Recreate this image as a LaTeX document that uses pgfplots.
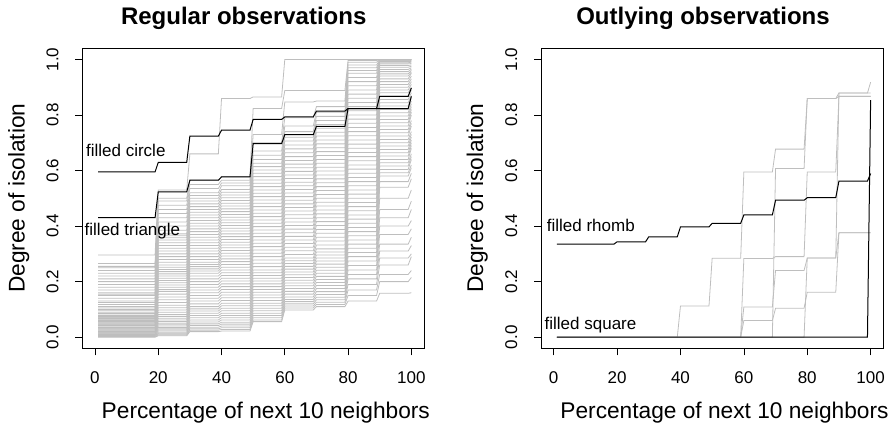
\documentclass[border=0pt]{standalone}
\usepackage{fontspec}
\setmainfont{Liberation Sans}
\usepackage{pgfplots}
\usepackage{pgfplotstable}
\pgfplotsset{compat=1.18}

\definecolor{rgray}{RGB}{190,190,190}
\newcommand\tickfont{\fontsize{17}{20}\selectfont}
\newcommand\labfont{\fontsize{22.7}{27}\selectfont}
\newcommand\titfont{\bfseries\fontsize{24}{29}\selectfont}

% levels of each curve on the ten steps: 1-19, 20-29, ..., 90-99, 100
\pgfplotstableread{
s1 s2 s3 s4 s5 s6 s7 s8 s9 s10
0.000 0.005 0.020 0.022 0.056 0.098 0.110 0.130 0.158 0.160
0.002 0.008 0.025 0.028 0.062 0.105 0.118 0.150 0.200 0.215
0.004 0.011 0.030 0.034 0.070 0.112 0.126 0.170 0.226 0.240
0.006 0.014 0.036 0.040 0.078 0.120 0.135 0.190 0.260 0.290
0.008 0.018 0.042 0.047 0.086 0.128 0.144 0.210 0.285 0.300
0.010 0.022 0.048 0.054 0.095 0.136 0.154 0.226 0.310 0.330
0.012 0.026 0.055 0.062 0.104 0.145 0.164 0.242 0.335 0.360
0.014 0.030 0.062 0.070 0.113 0.155 0.175 0.258 0.370 0.390
0.016 0.035 0.070 0.078 0.122 0.165 0.186 0.274 0.400 0.420
0.018 0.040 0.078 0.086 0.132 0.175 0.197 0.290 0.430 0.460
0.020 0.045 0.086 0.095 0.142 0.185 0.208 0.305 0.460 0.490
0.022 0.050 0.094 0.104 0.152 0.195 0.219 0.320 0.500 0.530
0.025 0.056 0.102 0.113 0.162 0.205 0.230 0.335 0.540 0.570
0.027 0.062 0.110 0.122 0.172 0.215 0.241 0.350 0.560 0.590
0.030 0.068 0.120 0.132 0.182 0.225 0.252 0.365 0.580 0.610
0.032 0.075 0.130 0.142 0.192 0.235 0.263 0.380 0.592 0.620
0.035 0.082 0.140 0.152 0.202 0.245 0.274 0.395 0.604 0.640
0.037 0.090 0.150 0.162 0.212 0.255 0.285 0.410 0.616 0.650
0.040 0.098 0.160 0.172 0.222 0.265 0.296 0.425 0.628 0.660
0.042 0.106 0.170 0.182 0.232 0.275 0.307 0.440 0.640 0.680
0.045 0.115 0.180 0.192 0.242 0.285 0.318 0.455 0.652 0.690
0.047 0.125 0.190 0.202 0.254 0.298 0.332 0.470 0.664 0.700
0.050 0.135 0.200 0.212 0.266 0.311 0.346 0.485 0.676 0.710
0.052 0.145 0.210 0.222 0.278 0.324 0.360 0.500 0.688 0.720
0.055 0.155 0.220 0.232 0.290 0.337 0.374 0.515 0.700 0.730
0.057 0.165 0.230 0.242 0.302 0.350 0.388 0.530 0.712 0.740
0.060 0.172 0.238 0.252 0.314 0.363 0.402 0.545 0.724 0.760
0.062 0.180 0.246 0.262 0.326 0.376 0.416 0.560 0.736 0.770
0.065 0.188 0.254 0.272 0.338 0.389 0.430 0.575 0.748 0.780
0.067 0.196 0.262 0.282 0.350 0.402 0.444 0.590 0.760 0.800
0.070 0.204 0.270 0.292 0.362 0.415 0.458 0.605 0.772 0.810
0.072 0.212 0.280 0.302 0.374 0.428 0.472 0.620 0.784 0.820
0.075 0.220 0.290 0.312 0.386 0.441 0.486 0.635 0.796 0.830
0.078 0.228 0.300 0.322 0.398 0.454 0.500 0.650 0.808 0.840
0.080 0.236 0.310 0.332 0.410 0.467 0.514 0.665 0.820 0.850
0.085 0.244 0.320 0.342 0.422 0.480 0.528 0.680 0.832 0.860
0.090 0.252 0.330 0.352 0.434 0.493 0.542 0.695 0.844 0.870
0.095 0.260 0.340 0.362 0.446 0.506 0.556 0.710 0.856 0.880
0.100 0.270 0.350 0.372 0.458 0.519 0.570 0.725 0.868 0.890
0.105 0.280 0.360 0.382 0.470 0.532 0.584 0.740 0.880 0.900
0.110 0.290 0.370 0.392 0.482 0.545 0.598 0.755 0.890 0.910
0.118 0.300 0.380 0.402 0.494 0.558 0.612 0.770 0.900 0.920
0.125 0.310 0.390 0.412 0.506 0.571 0.626 0.785 0.910 0.930
0.130 0.320 0.400 0.422 0.518 0.584 0.640 0.800 0.920 0.940
0.140 0.330 0.410 0.432 0.530 0.597 0.654 0.815 0.930 0.950
0.150 0.340 0.420 0.442 0.542 0.610 0.668 0.830 0.940 0.955
0.155 0.350 0.430 0.452 0.554 0.623 0.682 0.845 0.948 0.960
0.160 0.358 0.440 0.462 0.566 0.636 0.696 0.860 0.956 0.965
0.170 0.365 0.450 0.472 0.578 0.650 0.710 0.875 0.964 0.970
0.180 0.372 0.460 0.482 0.590 0.664 0.724 0.890 0.972 0.975
0.190 0.385 0.470 0.492 0.602 0.678 0.738 0.905 0.978 0.980
0.200 0.400 0.480 0.502 0.614 0.692 0.752 0.920 0.984 0.985
0.210 0.415 0.490 0.512 0.626 0.706 0.766 0.935 0.988 0.990
0.220 0.430 0.500 0.522 0.640 0.720 0.780 0.950 0.992 0.993
0.230 0.445 0.510 0.532 0.655 0.740 0.795 0.960 0.995 0.996
0.240 0.460 0.520 0.545 0.670 0.760 0.810 0.970 0.997 0.998
0.250 0.475 0.535 0.555 0.700 0.790 0.830 0.980 0.998 1.000
0.255 0.490 0.550 0.565 0.730 0.847 0.850 0.990 0.999 1.000
0.265 0.500 0.565 0.578 0.823 0.888 0.888 0.996 1.000 1.000
0.296 0.530 0.660 0.859 0.865 1.000 1.000 1.000 1.000 1.000
}\regular

\pgfplotstableread{
s1 s2 s3 s4 s5 s6 s7 s8 s9 s10
0 0 0 0.1125 0.284 0.595 0.677 0.859 0.879 0.918
0 0 0 0 0 0 0.607 0.859 0.867 0.867
0 0 0 0 0 0.283 0.290 0.595 0.867 0.867
0 0 0 0 0 0.109 0.240 0.285 0.879 0.879
0 0 0 0 0 0.060 0.104 0.162 0.376 0.376
0 0 0 0 0 0 0 0.285 0.376 0.376
}\outlying

% one grey step curve per table row
\newcommand\steplines[1]{%
  \pgfplotstablegetrowsof{#1}%
  \pgfmathtruncatemacro\nlast{\pgfplotsretval-1}%
  \pgfplotsforeachungrouped \rowi in {0,...,\nlast}{%
    \pgfplotstablegetelem{\rowi}{s1}\of#1\let\qa\pgfplotsretval
    \pgfplotstablegetelem{\rowi}{s2}\of#1\let\qb\pgfplotsretval
    \pgfplotstablegetelem{\rowi}{s3}\of#1\let\qc\pgfplotsretval
    \pgfplotstablegetelem{\rowi}{s4}\of#1\let\qd\pgfplotsretval
    \pgfplotstablegetelem{\rowi}{s5}\of#1\let\qe\pgfplotsretval
    \pgfplotstablegetelem{\rowi}{s6}\of#1\let\qf\pgfplotsretval
    \pgfplotstablegetelem{\rowi}{s7}\of#1\let\qg\pgfplotsretval
    \pgfplotstablegetelem{\rowi}{s8}\of#1\let\qh\pgfplotsretval
    \pgfplotstablegetelem{\rowi}{s9}\of#1\let\qi\pgfplotsretval
    \pgfplotstablegetelem{\rowi}{s10}\of#1\let\qj\pgfplotsretval
    \edef\temp{\noexpand\addplot[rgray, line width=0.8pt, mark=none] coordinates {(1,\qa)(19,\qa)(20,\qb)(29,\qb)(30,\qc)(39,\qc)(40,\qd)(49,\qd)(50,\qe)(59,\qe)(60,\qf)(69,\qf)(70,\qg)(79,\qg)(80,\qh)(89,\qh)(90,\qi)(99,\qi)(100,\qj)};}%
    \temp
  }%
}

\pgfplotsset{
  rpanel/.style={
    anchor=south west, scale only axis, height=300pt,
    xmin=-4, xmax=104, ymin=-0.04, ymax=1.04,
    xtick={0,20,40,60,80,100}, ytick={0,0.2,0.4,0.6,0.8,1},
    tick pos=left, tick align=outside, major tick length=7pt,
    axis line style={line width=0.7pt},
    every tick/.style={black, line width=0.7pt},
    tick label style={font=\tickfont},
    /pgf/number format/assume math mode=true,
    xticklabel style={anchor=base},
    yticklabel style={rotate=90, anchor=base, /pgf/number format/fixed, /pgf/number format/fixed zerofill, /pgf/number format/precision=1},
    xticklabel shift=28pt, yticklabel shift=17pt,
  },
  blk/.style={black, line width=1pt, mark=none},
}

\begin{document}
\begin{tikzpicture}
\path[use as bounding box] (0,0) rectangle (893pt,426pt);

\begin{axis}[rpanel, at={(82.3pt,77.7pt)}, width=341.7pt]
\steplines{\regular}
\addplot[blk] coordinates {(1,0.595)(19,0.595)(20,0.629)(29,0.629)(30,0.724)(39,0.724)(40,0.745)(49,0.745)(50,0.784)(59,0.784)(60,0.793)(69,0.793)(70,0.814)(79,0.814)(80,0.823)(89,0.823)(90,0.867)(99,0.867)(100,0.897)};
\addplot[blk] coordinates {(1,0.430)(19,0.430)(20,0.523)(29,0.523)(30,0.565)(39,0.565)(40,0.577)(49,0.577)(50,0.697)(59,0.697)(60,0.729)(69,0.729)(70,0.759)(79,0.759)(80,0.823)(89,0.823)(90,0.823)(99,0.823)(100,0.867)};
\node[anchor=base west, font=\tickfont, inner sep=0pt] at (axis cs:-2.85,0.652) {filled circle};
\node[anchor=base west, font=\tickfont, inner sep=0pt] at (axis cs:-3.3,0.365) {filled triangle};
\end{axis}

\begin{axis}[rpanel, at={(541pt,77.7pt)}, width=342.3pt]
\steplines{\outlying}
\addplot[blk] coordinates {(1,0.335)(19,0.335)(20,0.3435)(29,0.3435)(30,0.3615)(39,0.3615)(40,0.397)(49,0.397)(50,0.41)(59,0.41)(60,0.44)(69,0.44)(70,0.493)(79,0.493)(80,0.502)(89,0.502)(90,0.562)(99,0.562)(100,0.589)};
\addplot[blk] coordinates {(1,0)(19,0)(20,0)(29,0)(30,0)(39,0)(40,0)(49,0)(50,0)(59,0)(60,0)(69,0)(70,0)(79,0)(80,0)(89,0)(90,0)(99,0)(100,0.853)};
\node[anchor=base west, font=\tickfont, inner sep=0pt] at (axis cs:-2.2,0.379) {filled rhomb};
\node[anchor=base west, font=\tickfont, inner sep=0pt] at (axis cs:-2.9,0.026) {filled square};
\end{axis}

\node[anchor=base, font=\titfont] at (243.7pt,401.5pt) {Regular observations};
\node[anchor=base, font=\titfont] at (703pt,401.5pt) {Outlying observations};
\node[anchor=base, font=\labfont] at (265.8pt,7.5pt) {Percentage of next 10 neighbors};
\node[anchor=base, font=\labfont] at (724.5pt,7.5pt) {Percentage of next 10 neighbors};
\node[anchor=base, font=\labfont, rotate=90] at (24.6pt,227.7pt) {Degree of isolation};
\node[anchor=base, font=\labfont, rotate=90] at (483pt,227.7pt) {Degree of isolation};
\end{tikzpicture}
\end{document}
